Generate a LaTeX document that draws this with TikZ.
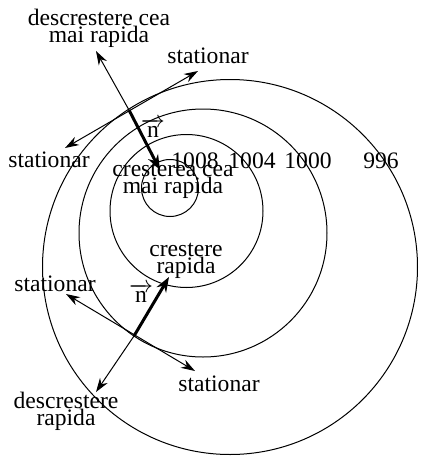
\documentclass[tikz,border=0pt]{standalone}
\usepackage{fontspec}
\setmainfont{Liberation Serif}
\usetikzlibrary{arrows.meta}
\lineskiplimit=-100pt
\begin{document}
\begin{tikzpicture}[x=0.5pt,y=-0.5pt,
  lbl/.style={font=\fontsize{11.8}{8.5}\selectfont, inner sep=0pt, align=center, anchor=base},
  iso/.style={draw, line width=0.5pt},
  thinarr/.style={line width=0.5pt, -{Stealth[length=7pt,width=4.6pt]}},
  thinboth/.style={line width=0.5pt, {Stealth[length=7pt,width=4.6pt]}-{Stealth[length=7pt,width=4.6pt]}},
  thickarr/.style={line width=1.5pt, -{Stealth[length=7.5pt,width=5.5pt]}}]
\useasboundingbox (0,0) rectangle (420,456);
% isobars
\draw[iso] (230,267) circle[radius=187.5];
\draw[iso] (203,233) circle[radius=124];
\draw[iso] (186.5,211) circle[radius=76.5];
\draw[iso] (170,188) circle[radius=28.5];
% labels of isobars
\node[lbl] (p1008) at (195,168) {1008};
\node[lbl] (p1004) at (252,168) {1004};
\node[lbl] (p1000) at (308,168) {1000};
\node[lbl] (p996) at (381,168) {996};
% top point
\coordinate (P1) at (129,110);
\coordinate (T1) at (96,51);
\coordinate (C1) at (160,170);
\coordinate (S1a) at (65,148);
\coordinate (S1b) at (198,71);
\draw[thinarr] (P1) -- (T1);
\draw[thickarr] (P1) -- (C1);
\draw[thinboth] (S1a) -- (S1b);
% bottom point
\coordinate (P2) at (134,336);
\coordinate (T2) at (96,392);
\coordinate (C2) at (169,277);
\coordinate (S2a) at (66,294);
\coordinate (S2b) at (195,371);
\draw[thinarr] (P2) -- (T2);
\draw[thickarr] (P2) -- (C2);
\draw[thinboth] (S2a) -- (S2b);
% n vectors
\node[lbl] (n1) at (153,137) {$\overrightarrow{\hbox{\,n\,}}$};
\node[lbl] (n2) at (141,302) {$\overrightarrow{\hbox{\,n\,}}$};
% texts
\node[lbl] (dmax) at (99,42) {descrestere cea\\mai rapida};
\node[lbl] (st1) at (208,63) {stationar};
\node[lbl] (st2) at (49,167) {stationar};
\node[lbl] (cmax) at (173,193) {cresterea cea\\mai rapida};
\node[lbl] (cr) at (186,273) {crestere\\rapida};
\node[lbl] (st3) at (55,291) {stationar};
\node[lbl] (st4) at (219,391) {stationar};
\node[lbl] (dr) at (66,425) {descrestere\\rapida};
\end{tikzpicture}
\end{document}
